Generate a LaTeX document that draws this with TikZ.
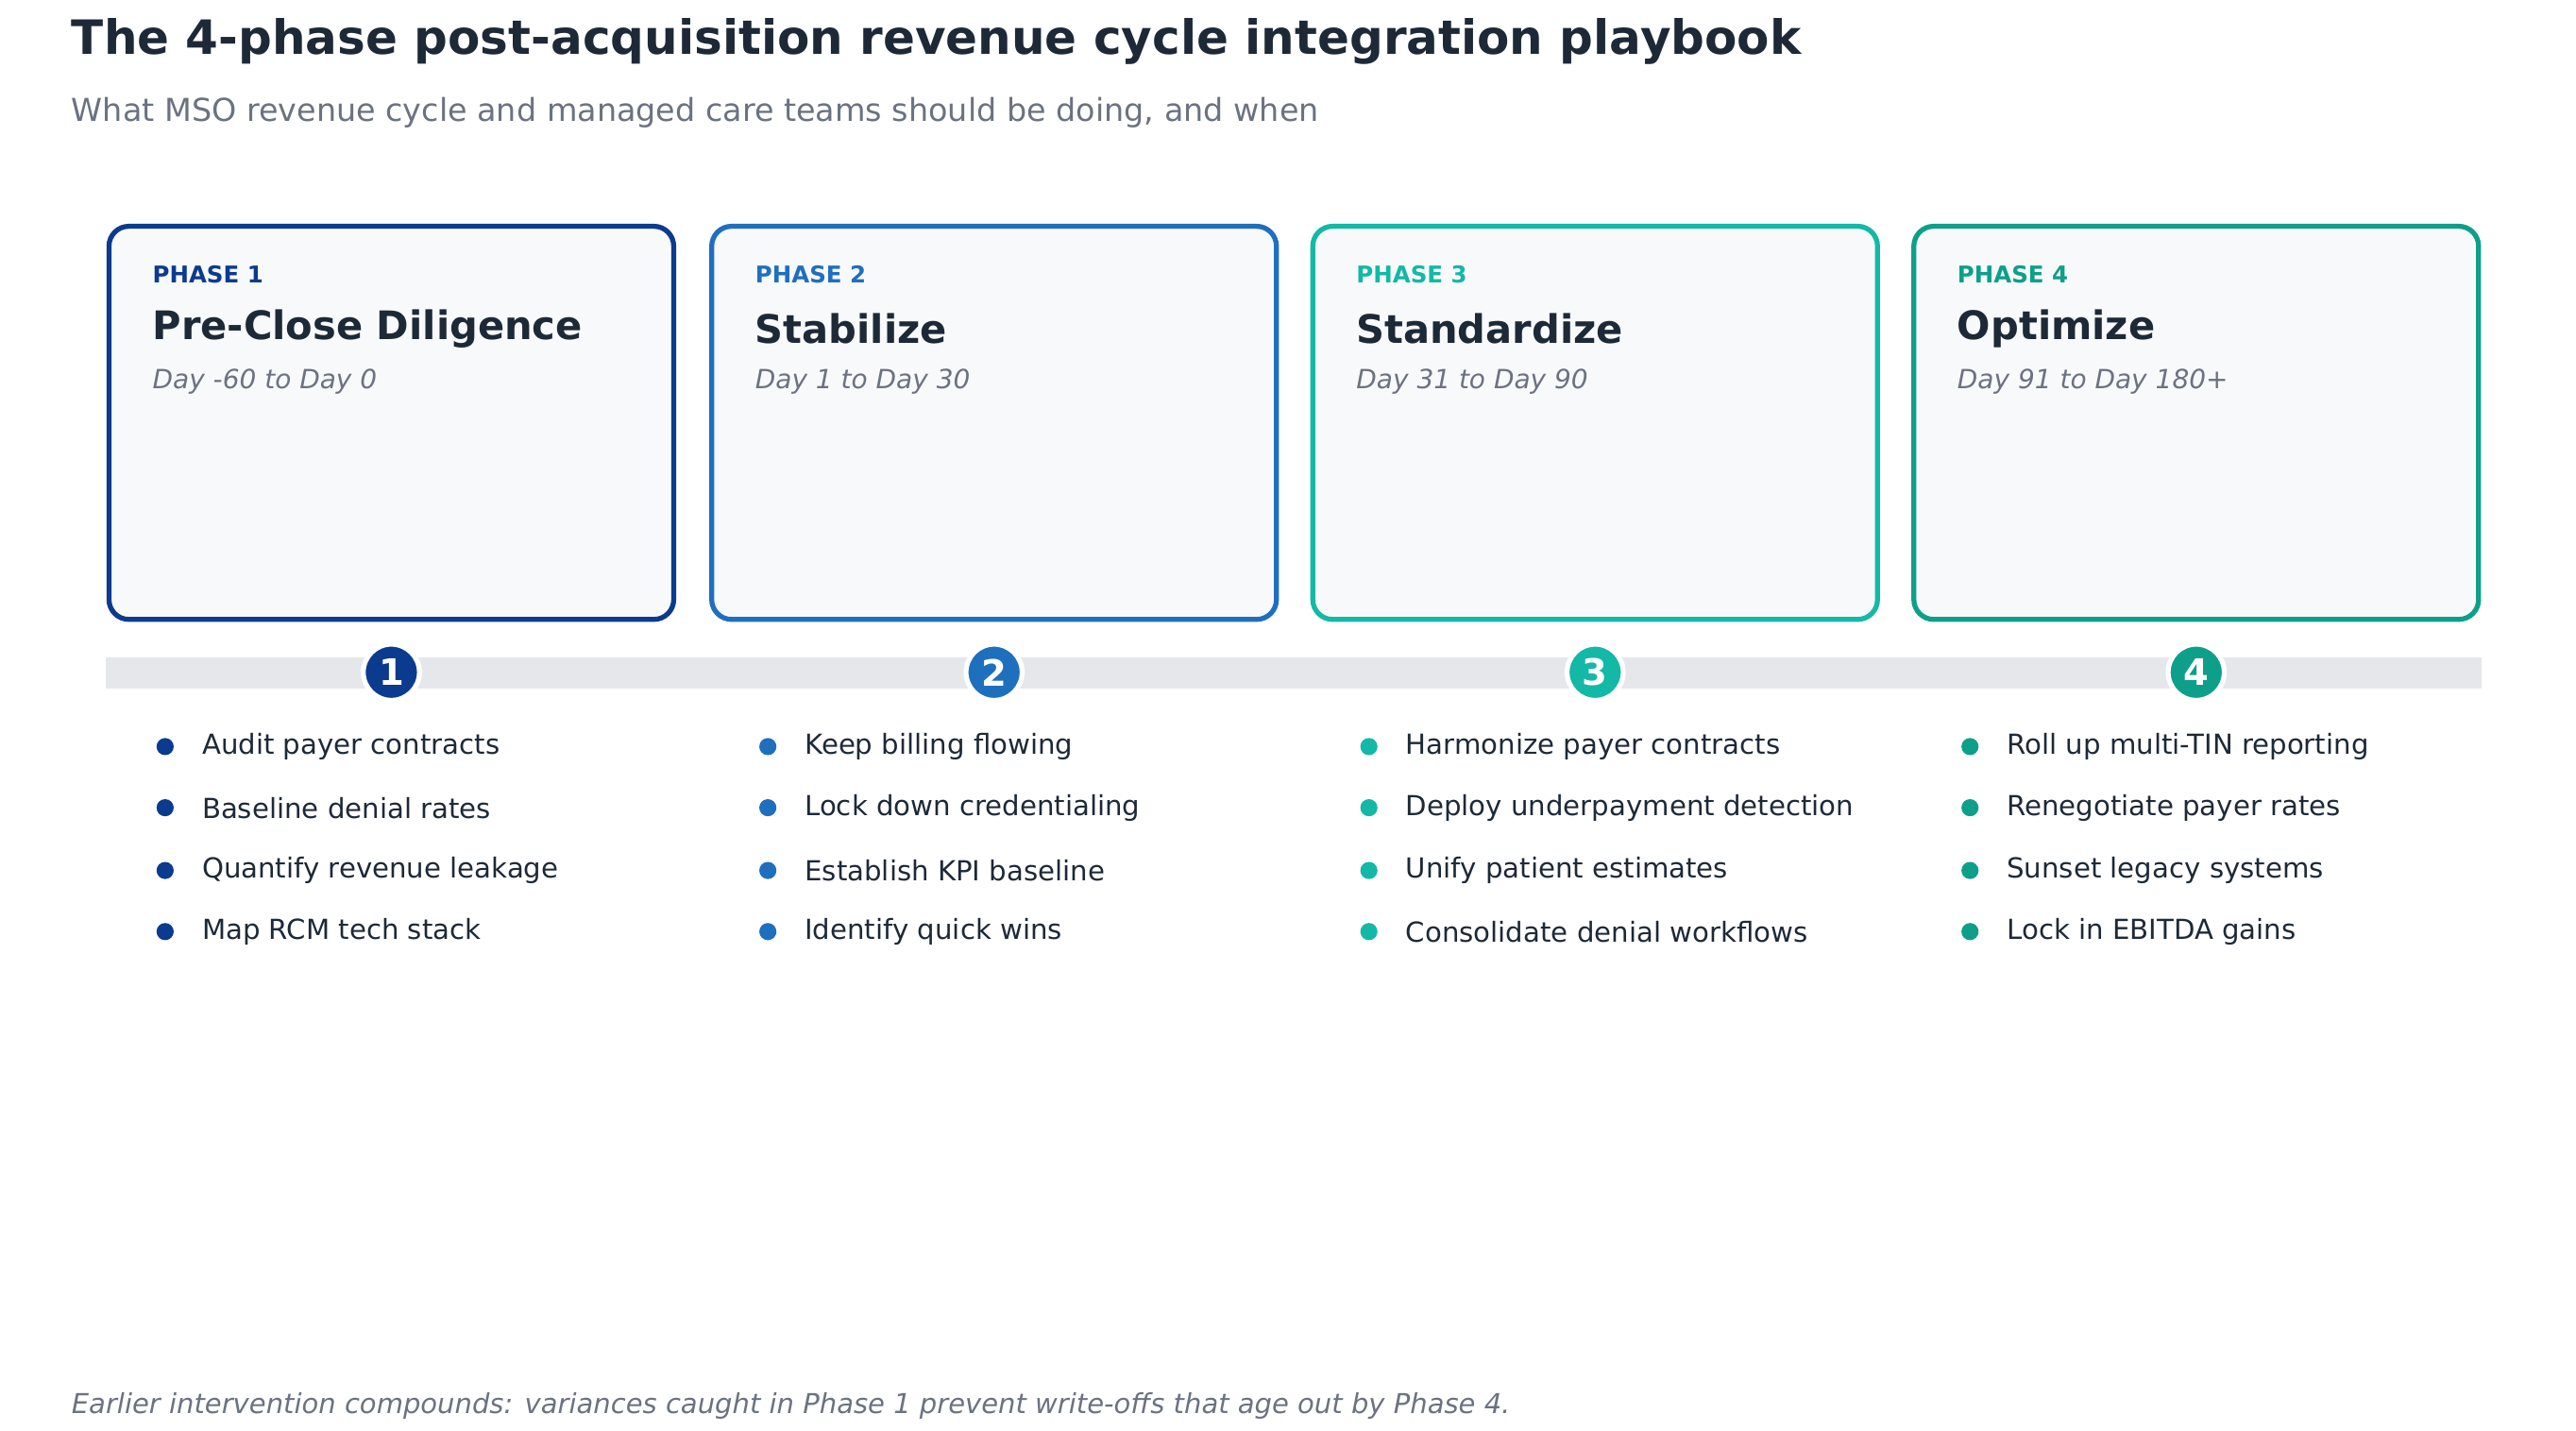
\documentclass[tikz,border=0pt]{standalone}
\usepackage{fontspec}
\setmainfont{DejaVu Sans}
\definecolor{ink}{HTML}{1E2937}
\definecolor{sub}{HTML}{6B7280}
\definecolor{cA}{HTML}{0B3B8F}
\definecolor{cB}{HTML}{1F6FBF}
\definecolor{cC}{HTML}{14B8A6}
\definecolor{cD}{HTML}{0E9F8A}
\definecolor{bar}{HTML}{E5E7EB}
\definecolor{cardfill}{HTML}{F8F9FB}
\begin{document}
\begin{tikzpicture}[x=0.5pt,y=-0.5pt,
  card/.style={draw=#1,line width=1.5pt,rounded corners=6pt,fill=cardfill},
  phaselbl/.style={anchor=west,text=#1,font=\fontsize{7}{8}\selectfont\bfseries,inner sep=0},
  cardtitle/.style={anchor=west,text=ink,font=\fontsize{11.9}{13}\selectfont\bfseries,inner sep=0},
  daytxt/.style={anchor=west,text=sub,font=\fontsize{8}{9}\selectfont\itshape,inner sep=0},
  numcirc/.style={circle,fill=#1,draw=white,line width=1.5pt,minimum size=17pt,inner sep=0,text=white,font=\fontsize{11}{12}\selectfont\bfseries},
  bul/.style={circle,fill=#1,inner sep=0,minimum size=5.2pt},
  item/.style={anchor=west,text=ink,font=\fontsize{8.35}{9}\selectfont,inner sep=0}]
\useasboundingbox (0,0) rectangle (1560,866.3);
\node[anchor=base west,inner sep=0,text=ink,font=\fontsize{14.3}{16}\selectfont\bfseries] (title) at (43,33) {The 4-phase post-acquisition revenue cycle integration playbook};
\node[anchor=west,inner sep=0,text=sub,font=\fontsize{9.55}{11}\selectfont] (subt) at (43,68) {What MSO revenue cycle and managed care teams should be doing, and when};
\fill[bar] (64,398) rectangle (1503,417);
\foreach \i/\x/\c/\t/\d/\n in {
 1/66/cA/Pre-Close Diligence/Day -60 to Day 0/1,
 2/431/cB/Stabilize/Day 1 to Day 30/2,
 3/795/cC/Standardize/Day 31 to Day 90/3,
 4/1159/cD/Optimize/Day 91 to Day 180+/4}{
  \draw[card=\c] (\x,137) rectangle ++(342,238);
  \node[phaselbl=\c] (p\i) at (\x+26,166) {PHASE \n};
  \node[cardtitle] (t\i) at (\x+26,199) {\t};
  \node[daytxt] (d\i) at (\x+26,231) {\d};
  \node[numcirc=\c] (n\i) at (\x+171,407) {\n};
}
\foreach \i/\x/\c/\a/\b/\cc/\dd in {
 1/66/cA/Audit payer contracts/Baseline denial rates/Quantify revenue leakage/Map RCM tech stack,
 2/431/cB/Keep billing flowing/Lock down credentialing/Establish KPI baseline/Identify quick wins,
 3/795/cC/Harmonize payer contracts/Deploy underpayment detection/Unify patient estimates/Consolidate denial workflows,
 4/1159/cD/Roll up multi-TIN reporting/Renegotiate payer rates/Sunset legacy systems/Lock in EBITDA gains}{
  \node[bul=\c] (b\i a) at (\x+34,452) {}; \node[item] (i\i a) at (\x+56,452) {\a};
  \node[bul=\c] (b\i b) at (\x+34,489) {}; \node[item] (i\i b) at (\x+56,489) {\b};
  \node[bul=\c] (b\i c) at (\x+34,527) {}; \node[item] (i\i c) at (\x+56,527) {\cc};
  \node[bul=\c] (b\i d) at (\x+34,564) {}; \node[item] (i\i d) at (\x+56,564) {\dd};
}
\node[anchor=west,inner sep=0,text=sub,font=\fontsize{8.3}{10}\selectfont\itshape] (foot) at (43,851) {Earlier intervention compounds: variances caught in Phase 1 prevent write-offs that age out by Phase 4.};
\end{tikzpicture}
\end{document}
